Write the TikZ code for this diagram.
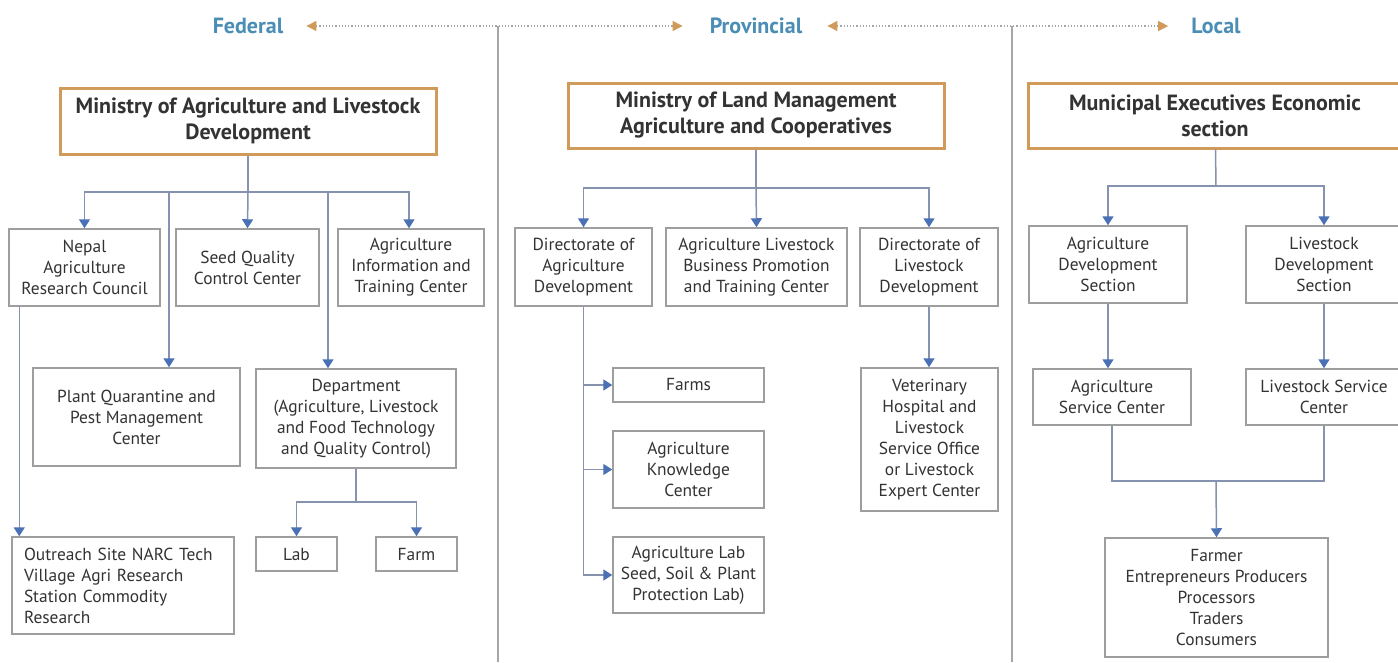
\documentclass[tikz,border=0pt]{standalone}
\usepackage{fontspec}
\setmainfont{PT Sans}
\usetikzlibrary{arrows.meta}
\definecolor{lvlblue}{HTML}{4A8DB5}
\definecolor{headorange}{HTML}{CF9A5A}
\definecolor{boxgray}{HTML}{9E9E9E}
\definecolor{linkgray}{HTML}{8593AE}
\definecolor{tipblue}{HTML}{4A70B5}
\definecolor{txt}{HTML}{333333}
\tikzset{
  box/.style={draw=boxgray,line width=1.5pt,fill=white,inner sep=2pt,align=center,
    text=txt,font=\fontsize{17.4}{21}\selectfont},
  head/.style={draw=headorange,line width=3pt,fill=white,inner sep=2pt,align=center,
    text=txt,font=\bfseries\fontsize{22}{26}\selectfont},
  level/.style={text=lvlblue,inner sep=0pt,font=\bfseries\fontsize{22}{26}\selectfont},
  link/.style={draw=linkgray,line width=1.5pt},
  arr/.style={link,-{Triangle[width=11pt,length=9pt,color=tipblue]}},
  dotarr/.style={draw=gray!70,line width=1.2pt,dotted,
    {Triangle[width=10pt,length=10pt,color=headorange]}-{Triangle[width=10pt,length=10pt,color=headorange]}},
  sep/.style={draw=gray!70,line width=1.5pt}
}
\begin{document}
\begin{tikzpicture}[x=1pt,y=-1pt]
  \useasboundingbox[fill=white] (0,0) rectangle (1398,662);

  % level labels
  \node[level] (fed) at (248,26) {Federal};
  \node[level] (prov) at (756,26) {Provincial};
  \node[level] (loc) at (1216,26) {Local};
  \draw[sep] (498,26) -- (498,662);
  \draw[sep] (1012,26) -- (1012,662);
  \draw[dotarr,shorten <=23pt,shorten >=27pt] (fed) -- (prov);
  \draw[dotarr,shorten <=25pt,shorten >=23pt] (prov) -- (loc);

  % federal
  \node[head,minimum width=376,minimum height=66] (minag) at (248,121)
    {Ministry of Agriculture and Livestock\\Development};
  \node[box,minimum width=151,minimum height=77] (narc) at (84.5,267.5)
    {Nepal\\Agriculture\\Research Council};
  \node[box,minimum width=143,minimum height=77] (seed) at (247.5,267.5)
    {Seed Quality\\Control Center};
  \node[box,minimum width=146,minimum height=77] (agrinfo) at (411,267.5)
    {Agriculture\\Information and\\Training Center};
  \node[box,minimum width=207,minimum height=98] (plant) at (136.5,417)
    {Plant Quarantine and\\Pest Management\\Center};
  \node[box,minimum width=200,minimum height=99] (dept) at (356,418.5)
    {Department\\(Agriculture, Livestock\\and Food Technology\\and Quality Control)};
  \node[box,minimum width=81,minimum height=34] (lab) at (296.5,554) {Lab};
  \node[box,minimum width=81,minimum height=34] (farm) at (416.5,554) {Farm};
  \node[box,minimum width=222,minimum height=97,text width=198,align=left] (outreach) at (123,585.5)
    {Outreach Site NARC Tech\\Village Agri Research\\Station Commodity\\Research};

  \coordinate (fbus) at (248,192);
  \draw[link] (minag) -- (fbus);
  \draw[arr] (fbus) -| (narc.north);
  \draw[arr] (fbus) -- (seed.north);
  \draw[arr] (fbus) -| ([xshift=-2pt]agrinfo.north);
  \coordinate (fplant) at (169,192);
  \coordinate (fdept) at (328,192);
  \draw[arr] (fplant) -- (fplant |- plant.north);
  \draw[arr] (fdept) -- (fdept |- dept.north);
  \coordinate (narcout) at ([xshift=11pt]narc.south west);
  \draw[arr] (narcout) -- (narcout |- outreach.north);
  \coordinate (dbus) at (356,502);
  \draw[link] (dept) -- (dbus);
  \draw[arr] (dbus) -| (lab.north);
  \draw[arr] (dbus) -| (farm.north);

  % provincial
  \node[head,minimum width=376,minimum height=65] (minland) at (756,115.5)
    {Ministry of Land Management\\Agriculture and Cooperatives};
  \node[box,minimum width=137,minimum height=78] (dirag) at (583.5,267)
    {Directorate of\\Agriculture\\Development};
  \node[box,minimum width=181,minimum height=78] (albp) at (756.5,267)
    {Agriculture Livestock\\Business Promotion\\and Training Center};
  \node[box,minimum width=138,minimum height=78] (dirliv) at (929,267)
    {Directorate of\\Livestock\\Development};
  \node[box,minimum width=151,minimum height=34] (farms) at (688.5,385) {Farms};
  \node[box,minimum width=151,minimum height=77] (akc) at (688.5,469.5)
    {Agriculture\\Knowledge\\Center};
  \node[box,minimum width=151,minimum height=76] (alab) at (688.5,575)
    {Agriculture Lab\\Seed, Soil \& Plant\\Protection Lab)};
  \node[box,minimum width=137,minimum height=143] (vet) at (929.5,439.5)
    {Veterinary\\Hospital and\\Livestock\\Service Office\\or Livestock\\Expert Center};

  \coordinate (pbus) at (756,188);
  \draw[link] (minland) -- (pbus);
  \draw[arr] (pbus) -| (dirag.north);
  \draw[arr] (pbus) -- (albp.north);
  \draw[arr] (pbus) -| (dirliv.north);
  \draw[arr] (dirag.south) |- (alab.west);
  \draw[arr] (dirag.south |- farms.west) -- (farms.west);
  \draw[arr] (dirag.south |- akc.west) -- (akc.west);
  \draw[arr] (dirliv) -- (dirliv |- vet.north);

  % local
  \node[head,minimum width=374,minimum height=65] (munic) at (1215,115.5)
    {Municipal Executives Economic\\section};
  \node[box,minimum width=158,minimum height=77] (agdev) at (1108,264.5)
    {Agriculture\\Development\\Section};
  \node[box,minimum width=156,minimum height=77] (livdev) at (1324,264.5)
    {Livestock\\Development\\Section};
  \node[box,minimum width=158,minimum height=56] (agserv) at (1112,397)
    {Agriculture\\Service Center};
  \node[box,minimum width=156,minimum height=56] (livserv) at (1324,397)
    {Livestock Service\\Center};
  \node[box,minimum width=223,minimum height=119] (farmer) at (1216.5,597.5)
    {Farmer\\Entrepreneurs Producers\\Processors\\Traders\\Consumers};

  \coordinate (lbus) at (1216,186);
  \draw[link] (munic) -- (lbus);
  \draw[arr] (lbus) -| (agdev.north);
  \draw[arr] (lbus) -| (livdev.north);
  \draw[arr] (agdev) -- (agdev |- agserv.north);
  \draw[arr] (livdev) -- (livserv.north);
  \coordinate (lbus2) at (1216,481);
  \draw[link] (agserv.south) |- (lbus2) -| (livserv.south);
  \draw[arr] (lbus2) -- (farmer.north);
\end{tikzpicture}
\end{document}
